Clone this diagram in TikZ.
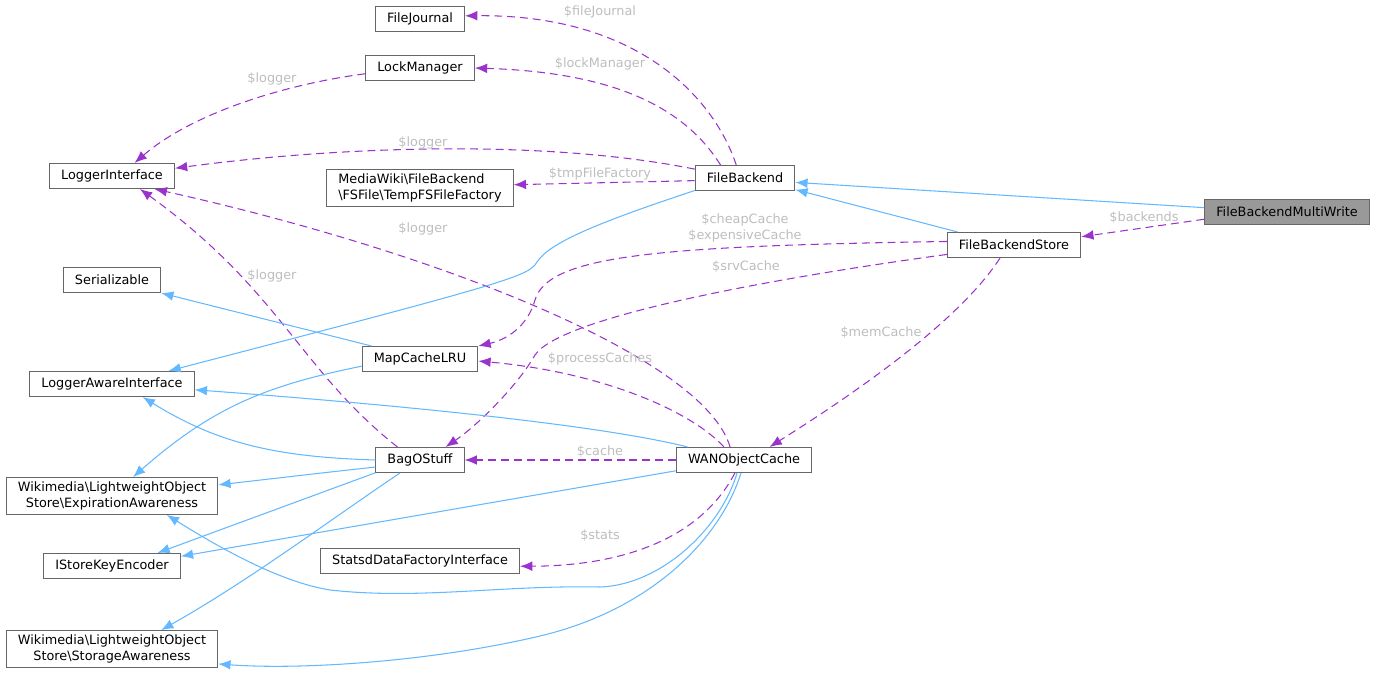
\documentclass[tikz,border=0pt]{standalone}
\usepackage{fontspec}
\setmainfont{DejaVu Sans}
\usetikzlibrary{arrows.meta, positioning, calc}

\definecolor{edgeblue}{HTML}{63B8FF}
\definecolor{edgepurple}{HTML}{9A32CD}
\definecolor{boxborder}{HTML}{666666}
\definecolor{labelgray}{HTML}{BDBDBD}
\definecolor{curfill}{HTML}{999999}

\begin{document}
\begin{tikzpicture}[
        x=0.02cm, y=-0.02cm,
        font=\fontsize{7.3}{8.6}\selectfont,
        cls/.style={draw=boxborder, line width=0.6pt, fill=white, align=center, minimum height=0.5cm, inner xsep=6.6pt, inner ysep=2.6pt},
        current/.style={cls, fill=curfill},
        inherit/.style={draw=edgeblue, line width=0.6pt, -{Latex[length=7pt,width=5.5pt]}},
        usage/.style={draw=edgepurple, line width=0.6pt, dash pattern=on 4.5pt off 2.8pt, -{Latex[length=7pt,width=5.5pt]}},
        lbl/.style={text=labelgray, inner sep=1pt}
    ]
    \useasboundingbox (0,0) rectangle (1376,675);

    % Middle column
    \node[cls] (fj) at (420,19) {FileJournal};
    \node[cls] (lm) at (420,68) {LockManager};
    \node[cls, align=left] (tmp) at (420,188) {MediaWiki\textbackslash FileBackend\\\textbackslash FSFile\textbackslash TempFSFileFactory};
    \node[cls] (mc) at (420,359) {MapCacheLRU};
    \node[cls] (bag) at (420,460) {BagOStuff};
    \node[cls] (sd) at (420,561) {StatsdDataFactoryInterface};

    % Left column: interfaces
    \node[cls] (li) at (112,176) {LoggerInterface};
    \node[cls] (ser) at (112,280) {Serializable};
    \node[cls] (lai) at (112,384) {LoggerAwareInterface};
    \node[cls] (ea) at (112,496) {Wikimedia\textbackslash LightweightObject\\Store\textbackslash ExpirationAwareness};
    \node[cls] (ik) at (112,566) {IStoreKeyEncoder};
    \node[cls] (sa) at (112,649) {Wikimedia\textbackslash LightweightObject\\Store\textbackslash StorageAwareness};

    % Right: backends and caches
    \node[cls] (fb) at (745,178) {FileBackend};
    \node[cls] (wan) at (744,460) {WANObjectCache};
    \node[cls] (fbs) at (1014,245) {FileBackendStore};
    \node[current] (fbmw) at (1287,212) {FileBackendMultiWrite};

    % Usage (member) relations
    \draw[usage] (fb.124) .. controls (715,100) and (640,14) .. (fj.4)
        node[lbl] (fjlbl) at (600,12) {\$fileJournal};
    \draw[usage] (fb.152) .. controls (680,100) and (600,72) .. (lm.east)
        node[lbl] (lmlbl) at (600,64) {\$lockManager};
    \draw[usage] (lm.186) .. controls (280,85) and (190,115) .. (li.30)
        node[lbl] (lmlilbl) at (272,79) {\$logger};
    \draw[usage] (fb.170) .. controls (550,140) and (350,145) .. (li.7)
        node[lbl] (fblilbl) at (423,143) {\$logger};
    \draw[usage] (fb.183) -- (tmp.2)
        node[lbl] (tmplbl) at (600,174) {\$tmpFileFactory};
    \draw[usage] (wan.137) .. controls (705,360) and (450,255) .. (li.343)
        node[lbl] (wanlilbl) at (423,229) {\$logger};
    \draw[usage] (bag.150) .. controls (300,370) and (280,290) .. (li.335)
        node[lbl] (baglilbl) at (272,276) {\$logger};
    \draw[usage] (fbs.177) .. controls (660,246) and (548,255) .. (535,300) .. controls (527,328) and (505,340) .. (mc.north east)
        node[lbl, align=center] (mclbl) at (745,228) {\$cheapCache\\\$expensiveCache};
    \draw[usage] (fbs.188) .. controls (760,280) and (560,318) .. (535,355) .. controls (518,385) and (478,425) .. (bag.27)
        node[lbl] (srvlbl) at (746,267) {\$srvCache};
    \draw[usage] (fbs.223) .. controls (960,320) and (860,390) .. (wan.27)
        node[lbl] (memlbl) at (881,333) {\$memCache};
    \draw[usage] (wan.147) .. controls (690,410) and (600,372) .. (mc.358)
        node[lbl] (proclbl) at (600,359) {\$processCaches};
    \draw[usage] (wan.west) -- (bag.east)
        node[lbl] (cachelbl) at (600,452) {\$cache};
    \draw[usage] (wan.235) .. controls (700,540) and (620,566) .. (sd.357)
        node[lbl] (statslbl) at (600,536) {\$stats};
    \draw[usage] (fbmw.185) -- (fbs.7)
        node[lbl] (backlbl) at (1144,218) {\$backends};

    % Inheritance
    \draw[inherit] (fbmw.177) -- (fb.355);
    \draw[inherit] (fbs.167) -- (fb.347);
    \draw[inherit] (fb.194) .. controls (600,222) and (550,242) .. (537,262) .. controls (528,276) and (518,280) .. (lai.13);
    \draw[inherit] (mc.165) -- (ser.south east);
    \draw[inherit] (mc.187) .. controls (270,385) and (215,405) .. (ea.42);
    \draw[inherit] (bag.west) .. controls (280,457) and (220,445) .. (lai.337);
    \draw[inherit] (wan.167) .. controls (600,425) and (400,405) .. (lai.356);
    \draw[inherit] (bag.189) .. controls (320,473) and (270,479) .. (ea.6);
    \draw[inherit] (bag.196) -- (ik.16);
    \draw[inherit] (bag.213) .. controls (330,520) and (250,580) .. (sa.21);
    \draw[inherit] (wan.189) -- (ik.8);
    \draw[inherit] (wan.242) .. controls (720,530) and (660,585) .. (600,587) .. controls (500,585) and (420,600) .. (330,590) .. controls (280,582) and (220,548) .. (ea.341);
    \draw[inherit] (wan.257) .. controls (720,540) and (650,610) .. (540,636) .. controls (430,662) and (300,670) .. (sa.352);

\end{tikzpicture}
\end{document}
